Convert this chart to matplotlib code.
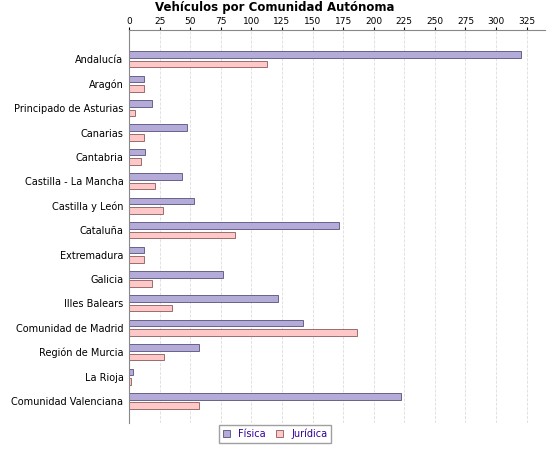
import matplotlib.pyplot as plt
import numpy as np

regions = ["Andalucía", "Aragón", "Principado de Asturias", "Canarias", "Cantabria",
           "Castilla - La Mancha", "Castilla y León", "Cataluña", "Extremadura", "Galicia",
           "Illes Balears", "Comunidad de Madrid", "Región de Murcia", "La Rioja",
           "Comunidad Valenciana"]
fisica = [320, 12, 19, 47, 13, 43, 53, 172, 12, 77, 122, 142, 57, 3, 222]
juridica = [113, 12, 5, 12, 10, 21, 28, 87, 12, 19, 35, 186, 29, 2, 57]

fig = plt.figure(figsize=(5.5, 4.5), dpi=100)
ax = fig.add_axes([129 / 550, 27 / 450, 416 / 550, 393 / 450])

y = np.arange(len(regions))
h = 0.27
ax.barh(y - h / 2 - 0.06, fisica, height=h, color="#b4abd9", edgecolor="#55507a", linewidth=0.6, label="Física")
ax.barh(y + h / 2 + 0.06, juridica, height=h, color="#ffc8c8", edgecolor="#8a5a5a", linewidth=0.6, label="Jurídica")

ax.set_ylim(len(regions) - 0.1, -1.2)
ax.set_xlim(0, 340)
ax.set_xticks(range(0, 326, 25))
ax.set_yticks(y)
ax.set_yticklabels(regions, fontsize=7)
ax.xaxis.tick_top()
ax.tick_params(axis="x", labelsize=6.5, length=2, pad=1)
ax.tick_params(axis="y", length=0, pad=4)
ax.grid(axis="x", linestyle="--", color="#dddddd", linewidth=0.6)
ax.set_axisbelow(True)
for s in ["right", "bottom"]:
    ax.spines[s].set_visible(False)
ax.spines["top"].set_color("#888888")
ax.spines["left"].set_color("#888888")

fig.suptitle("Vehículos por Comunidad Autónoma", fontsize=8.5, fontweight="bold", y=0.998)
fig.legend(loc="lower center", bbox_to_anchor=(0.5, 0.005), ncol=2, fontsize=7,
           frameon=True, fancybox=False, edgecolor="#888888", handlelength=0.8,
           handleheight=0.8, columnspacing=1.0, labelcolor="#330099")

fig.savefig("out.png", dpi=100)
